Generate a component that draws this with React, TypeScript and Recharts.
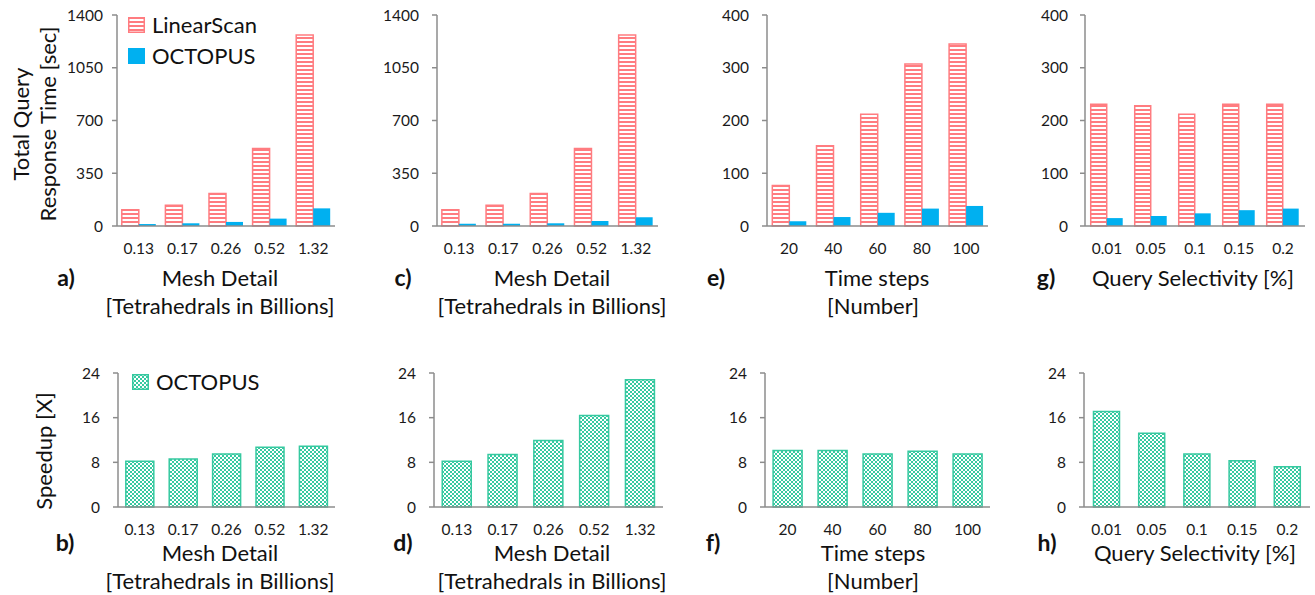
import React from 'react';
import { BarChart, Bar, XAxis, YAxis, Legend } from 'recharts';

// categories
const meshCats = ['0.13', '0.17', '0.26', '0.52', '1.32'];
const stepCats = ['20', '40', '60', '80', '100'];
const selCats = ['0.01', '0.05', '0.1', '0.15', '0.2'];

// total query response time [sec]
const linearA = [108, 137, 215, 514, 1267];
const octopusA = [13, 18, 27, 49, 117];
const linearC = [108, 137, 215, 514, 1267];
const octopusC = [15, 15, 18, 33, 58];
const linearE = [77, 152, 212, 307, 345];
const octopusE = [9, 17, 25, 33, 38];
const linearG = [231, 228, 212, 231, 231];
const octopusG = [15, 19, 24, 30, 33];

// speedup [X]
const speedupB = [8.2, 8.6, 9.5, 10.7, 10.9];
const speedupD = [8.2, 9.4, 11.9, 16.4, 22.8];
const speedupF = [10.1, 10.1, 9.5, 10.0, 9.5];
const speedupH = [17.1, 13.2, 9.5, 8.3, 7.2];

// y ticks
const timeTicks = [0, 350, 700, 1050, 1400];
const stepTicks = [0, 100, 200, 300, 400];
const speedTicks = [0, 8, 16, 24];

const PINK = '#FF7C80';
const BLUE = '#00B0F0';
const GREEN = '#36C9A0';
const AXIS = '#8c8c8c';
const FONT = 'Lato, "Open Sans", sans-serif';
const TICK_SIZE = 15.5;
const TITLE_SIZE = 22;

type Series = { key: string; name: string; values: number[]; fill: string; stroke?: string };

type PanelProps = {
  axisX: number;
  plotRight: number;
  plotTop: number;
  plotBottom: number;
  cats: string[];
  series: Series[];
  ticks: number[];
  yGap: number;
  xGap: number;
  catGap: string;
  legendAt?: [number, number];
};

const Swatch = ({ s }: { s: Series }) => (
  <svg width={17} height={16} style={{ display: 'block' }}>
    <rect x={0.75} y={0.75} width={15.5} height={14.5} fill={s.fill} stroke={s.stroke || s.fill} strokeWidth={1.5} />
  </svg>
);

const Panel = (p: PanelProps) => {
  const left = p.axisX - 60;
  const top = p.plotTop - 10;
  const width = p.plotRight - left + 5;
  const height = p.plotBottom - top + 40;
  const data = p.cats.map((c, i) => {
    const row: Record<string, string | number> = { cat: c };
    p.series.forEach((s) => (row[s.key] = s.values[i]));
    return row;
  });
  return (
    <div style={{ position: 'absolute', left, top }}>
      <BarChart
        width={width}
        height={height}
        data={data}
        margin={{ top: 10, right: 5, left: 0, bottom: 0 }}
        barCategoryGap={p.catGap}
        barGap={0}
      >
        <XAxis
          dataKey="cat"
          height={40}
          interval={0}
          tickLine={false}
          tickSize={0}
          tickMargin={p.xGap}
          axisLine={{ stroke: AXIS, strokeWidth: 1.5 }}
          tick={{ fill: '#1a1a1a', fontSize: TICK_SIZE, fontFamily: FONT }}
        />
        <YAxis
          type="number"
          width={60}
          domain={[0, p.ticks[p.ticks.length - 1]]}
          ticks={p.ticks}
          interval={0}
          tickSize={5}
          tickMargin={p.yGap - 5}
          tickLine={{ stroke: AXIS, strokeWidth: 1.5 }}
          axisLine={{ stroke: AXIS, strokeWidth: 1.5 }}
          tick={{ fill: '#1a1a1a', fontSize: TICK_SIZE, fontFamily: FONT }}
        />
        {p.legendAt && (
          <Legend
            layout="vertical"
            align="center"
            verticalAlign="middle"
            wrapperStyle={{ left: p.legendAt[0] - left, top: p.legendAt[1] - top, width: 'auto', height: 'auto' }}
            content={() => (
              <div style={{ fontFamily: FONT, fontSize: TITLE_SIZE, color: '#111' }}>
                {p.series.map((s) => (
                  <div key={s.key} style={{ display: 'flex', alignItems: 'center', height: 31 }}>
                    <Swatch s={s} />
                    <span style={{ marginLeft: 7, lineHeight: '22px' }}>{s.name}</span>
                  </div>
                ))}
              </div>
            )}
          />
        )}
        {p.series.map((s) => (
          <Bar
            key={s.key}
            dataKey={s.key}
            name={s.name}
            fill={s.fill}
            stroke={s.stroke}
            strokeWidth={s.stroke ? 1.5 : 0}
            isAnimationActive={false}
          />
        ))}
      </BarChart>
    </div>
  );
};

const timeSeries = (lin: number[], oct: number[]): Series[] => [
  { key: 'linear', name: 'LinearScan', values: lin, fill: 'url(#stripes)', stroke: PINK },
  { key: 'octopus', name: 'OCTOPUS', values: oct, fill: BLUE },
];
const speedSeries = (v: number[]): Series[] => [
  { key: 'speedup', name: 'OCTOPUS', values: v, fill: 'url(#checker)', stroke: GREEN },
];

const Txt = ({ x, y, t, bold, rot }: { x: number; y: number; t: string; bold?: boolean; rot?: boolean }) => (
  <text
    transform={`translate(${x},${y})${rot ? ' rotate(-90)' : ''}`}
    textAnchor="middle"
    dominantBaseline="central"
    fontSize={bold ? 23 : TITLE_SIZE}
    fontWeight={bold ? 700 : 400}
    fontFamily={FONT}
    fill="#111"
  >
    {t}
  </text>
);

const MESH = 'Mesh Detail';
const TETRA = '[Tetrahedrals in Billions]';

export default function App() {
  return (
    <div style={{ position: 'absolute', left: 0, top: 0, width: 1315, height: 595, background: '#fff', overflow: 'hidden' }}>
      <svg width={0} height={0} style={{ position: 'absolute' }}>
        <defs>
          <pattern id="stripes" width={4} height={4} patternUnits="userSpaceOnUse">
            <rect width={4} height={4} fill="#fff" />
            <rect width={4} height={2} fill={PINK} />
          </pattern>
          <pattern id="checker" width={4} height={4} patternUnits="userSpaceOnUse">
            <rect width={4} height={4} fill="#fff" />
            <rect width={2} height={2} fill={GREEN} />
            <rect x={2} y={2} width={2} height={2} fill={GREEN} />
          </pattern>
        </defs>
      </svg>

      <Panel axisX={117} plotRight={335} plotTop={15} plotBottom={226} cats={meshCats} series={timeSeries(linearA, octopusA)} ticks={timeTicks} yGap={14} xGap={17} catGap="11%" legendAt={[128, 9]} />
      <Panel axisX={437} plotRight={658} plotTop={15} plotBottom={226} cats={meshCats} series={timeSeries(linearC, octopusC)} ticks={timeTicks} yGap={18} xGap={17} catGap="11%" />
      <Panel axisX={767} plotRight={988} plotTop={15} plotBottom={226} cats={stepCats} series={timeSeries(linearE, octopusE)} ticks={stepTicks} yGap={18} xGap={17} catGap="12%" />
      <Panel axisX={1085} plotRight={1305} plotTop={15} plotBottom={226} cats={selCats} series={timeSeries(linearG, octopusG)} ticks={stepTicks} yGap={17} xGap={17} catGap="13%" />

      <Panel axisX={118} plotRight={335} plotTop={373} plotBottom={507} cats={meshCats} series={speedSeries(speedupB)} ticks={speedTicks} yGap={18} xGap={17} catGap="18%" legendAt={[132, 366]} />
      <Panel axisX={434} plotRight={663} plotTop={373} plotBottom={507} cats={meshCats} series={speedSeries(speedupD)} ticks={speedTicks} yGap={18} xGap={17} catGap="18%" />
      <Panel axisX={765} plotRight={990} plotTop={373} plotBottom={507} cats={stepCats} series={speedSeries(speedupF)} ticks={speedTicks} yGap={18} xGap={17} catGap="18%" />
      <Panel axisX={1084} plotRight={1310} plotTop={373} plotBottom={507} cats={selCats} series={speedSeries(speedupH)} ticks={speedTicks} yGap={18} xGap={17} catGap="21%" />

      <svg width={1315} height={595} style={{ position: 'absolute', left: 0, top: 0, pointerEvents: 'none' }}>
        <Txt x={20} y={124} t="Total Query" rot />
        <Txt x={47} y={124} t="Response Time [sec]" rot />
        <Txt x={43} y={451} t="Speedup [X]" rot />

        <Txt x={66} y={277} t="a)" bold />
        <Txt x={220} y={277} t={MESH} />
        <Txt x={220} y={305} t={TETRA} />
        <Txt x={403} y={277} t="c)" bold />
        <Txt x={552} y={277} t={MESH} />
        <Txt x={552} y={305} t={TETRA} />
        <Txt x={716} y={277} t="e)" bold />
        <Txt x={877} y={277} t="Time steps" />
        <Txt x={873} y={305} t="[Number]" />
        <Txt x={1046} y={277} t="g)" bold />
        <Txt x={1193} y={277} t="Query Selectivity [%]" />

        <Txt x={65} y={542} t="b)" bold />
        <Txt x={220} y={552} t={MESH} />
        <Txt x={220} y={580} t={TETRA} />
        <Txt x={403} y={542} t="d)" bold />
        <Txt x={552} y={552} t={MESH} />
        <Txt x={552} y={580} t={TETRA} />
        <Txt x={713} y={542} t="f)" bold />
        <Txt x={873} y={552} t="Time steps" />
        <Txt x={873} y={580} t="[Number]" />
        <Txt x={1047} y={542} t="h)" bold />
        <Txt x={1195} y={552} t="Query Selectivity [%]" />
      </svg>
    </div>
  );
}
